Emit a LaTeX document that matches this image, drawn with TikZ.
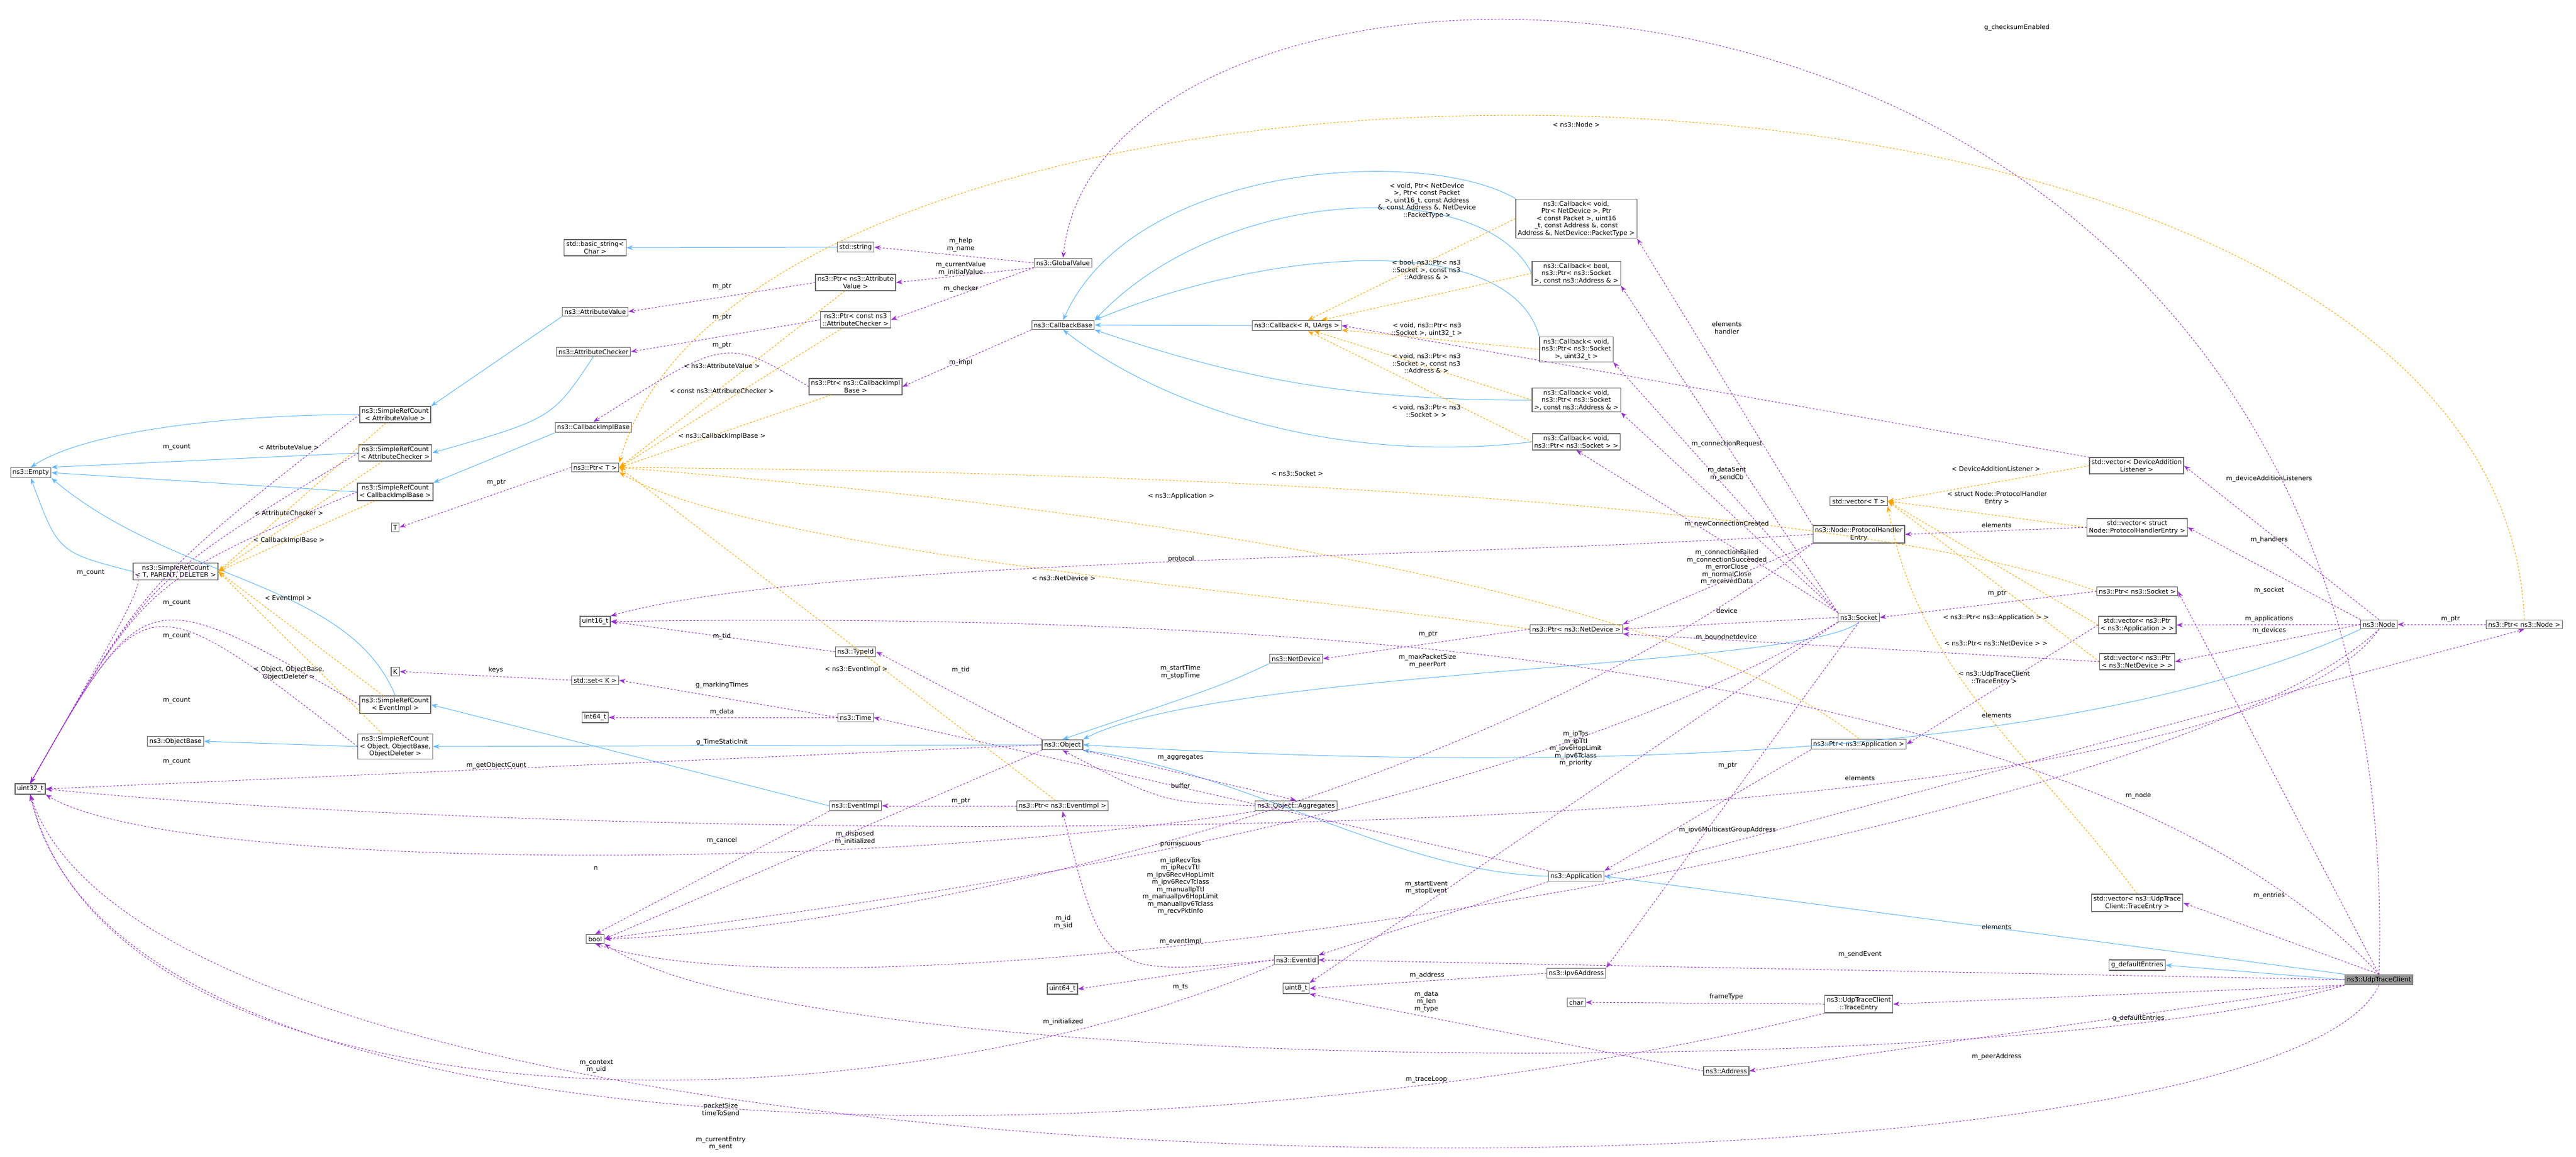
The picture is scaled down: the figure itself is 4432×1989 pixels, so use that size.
\documentclass[tikz,border=0pt]{standalone}
\usepackage{fontspec}
\setmainfont{DejaVu Sans}
\usetikzlibrary{arrows.meta}
\definecolor{cuse}{HTML}{9A32CD}
\definecolor{cinh}{HTML}{63B8FF}
\definecolor{ctpl}{HTML}{FFA500}
\definecolor{cbrd}{HTML}{666666}
\tikzset{
 box/.style={draw=cbrd,fill=white,line width=1.2pt,inner sep=3.5pt,align=center,font=\fontsize{11}{12.5}\selectfont},
 lbl/.style={inner sep=0pt,align=center,font=\fontsize{11}{12.5}\selectfont},
 use/.style={draw=cuse,dashed,line width=1pt,-{Stealth[length=11pt,width=8pt]}},
 inh/.style={draw=cinh,line width=1pt,-{Stealth[length=11pt,width=8pt]}},
 tpl/.style={draw=ctpl,dashed,line width=1pt,-{Stealth[length=11pt,width=8pt]}},
}
\begin{document}
\begin{tikzpicture}[x=1pt,y=-1pt]
\useasboundingbox (0,0) rectangle (4432,1989);
% nodes
\node[box] (empty) at (53,813) {ns3::Empty};
\node[box] (srcav) at (680,713) {ns3::SimpleRefCount\\ < AttributeValue >};
\node[box] (srcac) at (680,779) {ns3::SimpleRefCount\\ < AttributeChecker >};
\node[box] (srccib) at (680,846) {ns3::SimpleRefCount\\ < CallbackImplBase >};
\node[box] (srct) at (302,983) {ns3::SimpleRefCount\\ < T, PARENT, DELETER >};
\node[box] (T) at (680,907) {T};
\node[box] (ptrt) at (1024,804) {ns3::Ptr< T >};
\node[box] (av) at (1024,536) {ns3::AttributeValue};
\node[box] (ac) at (1021,605) {ns3::AttributeChecker};
\node[box] (cib) at (1021,735) {ns3::CallbackImplBase};
\node[box] (u16) at (1024,1069) {uint16\_t};
\node[box] (K) at (680,1155) {K};
\node[box] (setk) at (1024,1170) {std::set< K >};
\node[box] (srcei) at (680,1212) {ns3::SimpleRefCount\\ < EventImpl >};
\node[box] (i64) at (1024,1234) {int64\_t};
\node[box] (objb) at (302,1275) {ns3::ObjectBase};
\node[box] (srcobj) at (680,1284) {ns3::SimpleRefCount\\ < Object, ObjectBase,\\ ObjectDeleter >};
\node[box] (u32) at (52,1357) {uint32\_t};
\node[box] (bool) at (1024,1615) {bool};
\node[box] (bstr) at (1024,426) {std::basic\_string<\\ Char >};
\node[box] (str) at (1472,425) {std::string};
\node[box] (gv) at (1829,452) {ns3::GlobalValue};
\node[box] (ptrav) at (1472,486) {ns3::Ptr< ns3::Attribute\\ Value >};
\node[box] (ptrac) at (1472,550) {ns3::Ptr< const ns3\\ ::AttributeChecker >};
\node[box] (ptrcib) at (1472,665) {ns3::Ptr< ns3::CallbackImpl\\ Base >};
\node[box] (cbb) at (1829,559) {ns3::CallbackBase};
\node[box] (cbr) at (2231,560) {ns3::Callback< R, UArgs >};
\node[box] (cb1) at (2712,376) {ns3::Callback< void,\\ Ptr< NetDevice >, Ptr\\ < const Packet >, uint16\\ \_t, const Address \&, const\\ Address \&, NetDevice::PacketType >};
\node[box] (cb2) at (2712,470) {ns3::Callback< bool,\\ ns3::Ptr< ns3::Socket\\ >, const ns3::Address \& >};
\node[box] (cb3) at (2712,601) {ns3::Callback< void,\\ ns3::Ptr< ns3::Socket\\ >, uint32\_t >};
\node[box] (cb4) at (2712,688) {ns3::Callback< void,\\ ns3::Ptr< ns3::Socket\\ >, const ns3::Address \& >};
\node[box] (cb5) at (2712,760) {ns3::Callback< void,\\ ns3::Ptr< ns3::Socket > >};
\node[box] (ptrnd) at (2712,1082) {ns3::Ptr< ns3::NetDevice >};
\node[box] (vect) at (3198,862) {std::vector< T >};
\node[box] (phe) at (3198,919) {ns3::Node::ProtocolHandler\\ Entry};
\node[box] (sock) at (3198,1062) {ns3::Socket};
\node[box] (vdal) at (3676,801) {std::vector< DeviceAddition\\ Listener >};
\node[box] (vphe) at (3677,907) {std::vector< struct\\ Node::ProtocolHandlerEntry >};
\node[box] (ptrsock) at (3677,1017) {ns3::Ptr< ns3::Socket >};
\node[box] (vapp) at (3677,1075) {std::vector< ns3::Ptr\\ < ns3::Application > >};
\node[box] (vnd) at (3677,1138) {std::vector< ns3::Ptr\\ < ns3::NetDevice > >};
\node[box] (node) at (4093,1074) {ns3::Node};
\node[box] (ptrnode) at (4343,1074) {ns3::Ptr< ns3::Node >};
\node[box] (vte) at (3677,1553) {std::vector< ns3::UdpTrace\\ Client::TraceEntry >};
\node[box] (gde) at (3677,1660) {g\_defaultEntries};
\node[box,fill=cbrd!70] (utc) at (4093,1685) {ns3::UdpTraceClient};
\node[box] (tid) at (1472,1121) {ns3::TypeId};
\node[box] (nd) at (2230,1133) {ns3::NetDevice};
\node[box] (time) at (1472,1234) {ns3::Time};
\node[box] (obj) at (1828,1281) {ns3::Object};
\node[box] (ei) at (1472,1386) {ns3::EventImpl};
\node[box] (ptrei) at (1828,1386) {ns3::Ptr< ns3::EventImpl >};
\node[box] (agg) at (2230,1386) {ns3::Object::Aggregates};
\node[box] (eid) at (2230,1651) {ns3::EventId};
\node[box] (u64) at (1828,1701) {uint64\_t};
\node[box] (u8) at (2230,1700) {uint8\_t};
\node[box] (ptrapp) at (3198,1280) {ns3::Ptr< ns3::Application >};
\node[box] (app) at (2712,1507) {ns3::Application};
\node[box] (ip6) at (2712,1674) {ns3::Ipv6Address};
\node[box] (char) at (2712,1724) {char};
\node[box] (te) at (3198,1727) {ns3::UdpTraceClient\\ ::TraceEntry};
\node[box] (addr) at (2970,1842) {ns3::Address};
% inheritance
\draw[inh] (srcav.west) .. controls (400,713) and (150,740) .. (empty.north);
\draw[inh] (srcac.west) -- (empty.north east);
\draw[inh] (srccib.west) -- (empty.east);
\draw[inh] (srct.west) .. controls (100,950) .. (empty.south);
\draw[inh] (srcei.north) .. controls (600,1000) and (300,1000) .. (empty.south east);
\draw[inh] (av.south west) -- (srcav.north east);
\draw[inh] (ac.south) .. controls (950,720) .. (srcac.east);
\draw[inh] (cib.south west) -- (srccib.north east);
\draw[inh] (ei.west) -- (srcei.east);
\draw[inh] (obj.west) -- (srcobj.east);
\draw[inh] (srcobj.west) -- (objb.east);
\draw[inh] (str.west) -- (bstr.east);
\draw[inh] (cbr.west) -- (cbb.east);
\draw[inh] (cb1.north west) .. controls (2450,250) and (1950,280) .. (cbb.north);
\draw[inh] (cb2.west) .. controls (2550,300) and (2100,320) .. (cbb.north east);
\draw[inh] (cb3.north west) .. controls (2600,400) and (2200,420) .. (cbb.north east);
\draw[inh] (cb4.west) .. controls (2300,690) and (2100,640) .. (cbb.south east);
\draw[inh] (cb5.west) .. controls (2300,800) and (2000,700) .. (cbb.south);
\draw[inh] (nd.south west) .. controls (2100,1180) .. (obj.north);
\draw[inh] (sock.south) .. controls (3100,1150) and (2100,1150) .. (obj.north east);
\draw[inh] (node.south west) .. controls (3700,1250) and (3000,1350) .. (obj.east);
\draw[inh] (app.west) .. controls (2400,1500) and (2150,1330) .. (obj.south east);
\draw[inh] (utc.north west) -- (app.east);
\draw[inh] (utc.west) -- (gde.east);
% template instances
\foreach \s in {srcav,srcac,srccib,srcei,srcobj} \draw[tpl] (\s) -- (srct.east);
\foreach \s in {ptrav,ptrac,ptrcib,ptrei} \draw[tpl] (\s) -- (ptrt.east);
\draw[tpl] (ptrnd.west) .. controls (2200,1020) and (1300,950) .. (ptrt.south east);
\draw[tpl] (ptrsock.west) .. controls (3300,900) and (2400,814) .. (ptrt.east);
\draw[tpl] (ptrapp.north) .. controls (2800,950) and (1500,840) .. (ptrt.east);
\draw[tpl] (ptrnode.north) .. controls (4300,-40) and (1300,-40) .. (ptrt.north east);
\foreach \s in {cb1,cb2,cb3,cb4,cb5} \draw[tpl] (\s.west) -- (cbr);
\foreach \s in {vdal,vphe,vapp,vnd} \draw[tpl] (\s.west) -- (vect.east);
\draw[tpl] (vte.north) .. controls (3500,1300) and (3300,1160) .. (vect.south east);
% uses
\foreach \s in {srcav,srcac,srccib,srct,srcei,srcobj} \draw[use] (\s.west) .. controls (250,1000) .. (u32.north);
\draw[use] (ptrt.west) -- (T.east);
\draw[use] (ptrav.west) -- (av.east);
\draw[use] (ptrac.west) -- (ac.east);
\draw[use] (ptrcib.west) .. controls (1250,580) .. (cib.north);
\draw[use] (gv.west) -- (str.east);
\draw[use] (gv.south west) -- (ptrav.east);
\draw[use] (gv.south west) -- (ptrac.east);
\draw[use] (cbb.south west) -- (ptrcib.east);
\draw[use] (setk.west) -- (K.east);
\draw[use] (time.west) -- (setk.east);
\draw[use] (time.west) -- (i64.east);
\draw[use] (obj.north west) -- (tid.east);
\draw[use] (tid.west) -- (u16.east);
\draw[use] (obj.west) -- (u32.east);
\draw[use] (obj.south west) -- (bool.east);
\draw[use] (obj.south east) -- (agg.north);
\draw[use] (agg.west) .. controls (2000,1380) .. (obj.south);
\draw[use] (agg.south west) .. controls (1500,1500) and (300,1500) .. (u32.south east);
\draw[use] (ptrei.west) -- (ei.east);
\draw[use] (ei.south west) -- (bool.north);
\draw[use] (eid.west) .. controls (1900,1680) .. (ptrei.south);
\draw[use] (eid.west) -- (u64.east);
\draw[use] (eid.south west) .. controls (1500,1960) and (200,1960) .. (u32.south);
\draw[use] (app.north west) -- (time.east);
\draw[use] (ptrnd.west) -- (nd.east);
\draw[use] (sock.west) -- (ptrnd.east);
\draw[use] (phe.south west) -- (ptrnd.north east);
\draw[use] (phe.west) .. controls (2500,961) and (1400,960) .. (u16.north east);
\draw[use] (vdal.north west) -- (cbr.east);
\draw[use] (phe.north west) -- (cb1.south east);
\draw[use] (sock.north west) -- (cb2.south east);
\draw[use] (sock.north west) -- (cb3.south east);
\draw[use] (sock.north west) -- (cb4.south east);
\draw[use] (sock.north west) -- (cb5.south);
\draw[use] (sock.south west) -- (u8.north east);
\draw[use] (sock.south west) .. controls (2500,1450) and (1400,1560) .. (bool.east);
\draw[use] (phe.south west) .. controls (2500,1400) and (1500,1600) .. (bool.east);
\draw[use] (sock.south) -- (ip6.north east);
\draw[use] (ptrsock.west) -- (sock.east);
\draw[use] (ptrapp.south west) -- (app.north east);
\draw[use] (vapp.west) -- (ptrapp.east);
\draw[use] (vnd.west) -- (ptrnd.south east);
\draw[use] (vphe.west) -- (phe.east);
\draw[use] (ip6.west) -- (u8.east);
\draw[use] (addr.west) -- (u8.south east);
\draw[use] (te.west) -- (char.east);
\draw[use] (te.south west) .. controls (2000,2020) and (200,2020) .. (u32.south);
\draw[use] (utc.north) .. controls (4150,-230) and (1900,-230) .. (gv.north);
\draw[use] (utc.north) -- (vte.east);
\draw[use] (utc.west) -- (eid.east);
\draw[use] (utc.south west) -- (te.east);
\draw[use] (utc.south west) -- (addr.east);
\draw[use] (utc.south west) .. controls (3500,1860) and (1400,1860) .. (bool.south east);
\draw[use] (utc.south) .. controls (3900,2110) and (300,2110) .. (u32.south);
\draw[use] (utc.north) .. controls (3600,1150) and (2300,1050) .. (u16.east);
\draw[use] (utc.north) -- (ptrsock.east);
\draw[use] (app.east) -- (ptrnode.south);
\draw[use] (app.south west) -- (eid.north east);
\draw[use] (node.north) -- (vdal.east);
\draw[use] (node.north west) -- (vphe.east);
\draw[use] (node.west) -- (vapp.east);
\draw[use] (node.west) -- (vnd.east);
\draw[use] (node.south) .. controls (3800,1500) and (1000,1450) .. (u32.east);
\draw[use] (node.south) .. controls (3700,1450) and (1500,1780) .. (bool.south);
\draw[use] (ptrnode.west) -- (node.east);
% labels
\node[lbl] at (304,769) {m\_count};
\node[lbl] at (497,769) {< AttributeValue >};
\node[lbl] at (497,882) {< AttributeChecker >};
\node[lbl] at (497,929) {< CallbackImplBase >};
\node[lbl] at (156,985) {m\_count};
\node[lbl] at (496,1029) {< EventImpl >};
\node[lbl] at (304,1037) {m\_count};
\node[lbl] at (304,1094) {m\_count};
\node[lbl] at (853,1152) {keys};
\node[lbl] at (854,830) {m\_ptr};
\node[lbl] at (497,1158) {< Object, ObjectBase,\\ ObjectDeleter >};
\node[lbl] at (304,1205) {m\_count};
\node[lbl] at (304,1310) {m\_count};
\node[lbl] at (1653,421) {m\_help\\ m\_name};
\node[lbl] at (1653,462) {m\_currentValue\\ m\_initialValue};
\node[lbl] at (1653,497) {m\_checker};
\node[lbl] at (1242,493) {m\_ptr};
\node[lbl] at (1242,546) {m\_ptr};
\node[lbl] at (1242,594) {m\_ptr};
\node[lbl] at (1242,629) {< ns3::AttributeValue >};
\node[lbl] at (1242,672) {< const ns3::AttributeChecker >};
\node[lbl] at (1242,750) {< ns3::CallbackImplBase >};
\node[lbl] at (1653,624) {m\_impl};
\node[lbl] at (2712,214) {< ns3::Node >};
\node[lbl] at (3470,48) {g\_checksumEnabled};
\node[lbl] at (2455,345) {< void, Ptr< NetDevice\\ >, Ptr< const Packet\\ >, uint16\_t, const Address\\ \&, const Address \&, NetDevice\\ ::PacketType >};
\node[lbl] at (2454,464) {< bool, ns3::Ptr< ns3\\ ::Socket >, const ns3\\ ::Address \& >};
\node[lbl] at (2455,567) {< void, ns3::Ptr< ns3\\ ::Socket >, uint32\_t >};
\node[lbl] at (2454,625) {< void, ns3::Ptr< ns3\\ ::Socket >, const ns3\\ ::Address \& >};
\node[lbl] at (2454,707) {< void, ns3::Ptr< ns3\\ ::Socket > >};
\node[lbl] at (2232,814) {< ns3::Socket >};
\node[lbl] at (2032,853) {< ns3::Application >};
\node[lbl] at (2032,961) {protocol};
\node[lbl] at (2457,1091) {m\_ptr};
\node[lbl] at (2971,564) {elements\\ handler};
\node[lbl] at (2971,764) {m\_connectionRequest};
\node[lbl] at (2971,815) {m\_dataSent\\ m\_sendCb};
\node[lbl] at (2971,902) {m\_newConnectionCreated};
\node[lbl] at (2971,976) {m\_connectionFailed\\ m\_connectionSucceeded\\ m\_errorClose\\ m\_normalClose\\ m\_receivedData};
\node[lbl] at (2971,1050) {device};
\node[lbl] at (3434,806) {< DeviceAdditionListener >};
\node[lbl] at (3436,857) {< struct Node::ProtocolHandler\\ Entry >};
\node[lbl] at (3435,903) {elements};
\node[lbl] at (3436,1021) {m\_ptr};
\node[lbl] at (3434,1062) {< ns3::Ptr< ns3::Application > >};
\node[lbl] at (2970,1097) {m\_boundnetdevice};
\node[lbl] at (3434,1106) {< ns3::Ptr< ns3::NetDevice > >};
\node[lbl] at (3431,1166) {< ns3::UdpTraceClient\\ ::TraceEntry >};
\node[lbl] at (3435,1230) {elements};
\node[lbl] at (2456,1137) {m\_maxPacketSize\\ m\_peerPort};
\node[lbl] at (2711,1288) {m\_ipTos\\ m\_ipTtl\\ m\_ipv6HopLimit\\ m\_ipv6Tclass\\ m\_priority};
\node[lbl] at (2972,1317) {m\_ptr};
\node[lbl] at (3200,1338) {elements};
\node[lbl] at (2972,1428) {m\_ipv6MulticastGroupAddress};
\node[lbl] at (2454,1527) {m\_startEvent\\ m\_stopEvent};
\node[lbl] at (3435,1594) {elements};
\node[lbl] at (3200,1642) {m\_sendEvent};
\node[lbl] at (2455,1678) {m\_address};
\node[lbl] at (2454,1723) {m\_data\\ m\_len\\ m\_type};
\node[lbl] at (2970,1714) {frameType};
\node[lbl] at (3435,1818) {m\_peerAddress};
\node[lbl] at (2454,1857) {m\_traceLoop};
\node[lbl] at (1830,994) {< ns3::NetDevice >};
\node[lbl] at (1242,1095) {m\_tid};
\node[lbl] at (1473,1151) {< ns3::EventImpl >};
\node[lbl] at (1653,1153) {m\_tid};
\node[lbl] at (2031,1156) {m\_startTime\\ m\_stopTime};
\node[lbl] at (1242,1179) {g\_markingTimes};
\node[lbl] at (1242,1225) {m\_data};
\node[lbl] at (1242,1277) {g\_TimeStaticInit};
\node[lbl] at (2031,1303) {m\_aggregates};
\node[lbl] at (2031,1351) {buffer};
\node[lbl] at (1653,1378) {m\_ptr};
\node[lbl] at (1242,1446) {m\_cancel};
\node[lbl] at (1471,1441) {m\_disposed\\ m\_initialized};
\node[lbl] at (2031,1451) {promiscuous};
\node[lbl] at (2031,1524) {m\_ipRecvTos\\ m\_ipRecvTtl\\ m\_ipv6RecvHopLimit\\ m\_ipv6RecvTclass\\ m\_manualIpTtl\\ m\_manualIpv6HopLimit\\ m\_manualIpv6Tclass\\ m\_recvPktInfo};
\node[lbl] at (1829,1586) {m\_id\\ m\_sid};
\node[lbl] at (2031,1620) {m\_eventImpl};
\node[lbl] at (2031,1698) {m\_ts};
\node[lbl] at (1829,1758) {m\_initialized};
\node[lbl] at (854,1317) {m\_getObjectCount};
\node[lbl] at (1025,1493) {n};
\node[lbl] at (1026,1834) {m\_context\\ m\_uid};
\node[lbl] at (1240,1908) {packetSize\\ timeToSend};
\node[lbl] at (1240,1967) {m\_currentEntry\\ m\_sent};
\node[lbl] at (3904,824) {m\_deviceAdditionListeners};
\node[lbl] at (3904,929) {m\_handlers};
\node[lbl] at (3904,1016) {m\_socket};
\node[lbl] at (3904,1065) {m\_applications};
\node[lbl] at (3904,1085) {m\_devices};
\node[lbl] at (4216,1065) {m\_ptr};
\node[lbl] at (3679,1369) {m\_node};
\node[lbl] at (3904,1541) {m\_entries};
\node[lbl] at (3679,1752) {g\_defaultEntries};
\end{tikzpicture}
\end{document}
